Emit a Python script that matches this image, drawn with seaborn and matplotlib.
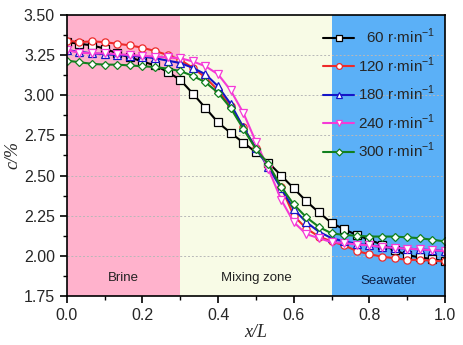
import numpy as np
import pandas as pd
import seaborn as sns
import matplotlib
matplotlib.use('Agg')
from matplotlib import pyplot as plt
from matplotlib.ticker import MultipleLocator

# data
x_pos = [0.0, 0.0333, 0.0667, 0.1, 0.1333, 0.1667, 0.2, 0.2333, 0.2667, 0.3,
         0.3333, 0.3667, 0.4, 0.4333, 0.4667, 0.5, 0.5333, 0.5667, 0.6, 0.6333,
         0.6667, 0.7, 0.7333, 0.7667, 0.8, 0.8333, 0.8667, 0.9, 0.9333, 0.9667, 1.0]

c_60 = [3.33, 3.32, 3.31, 3.29, 3.26, 3.235, 3.21, 3.185, 3.145, 3.095,
        3.01, 2.92, 2.83, 2.765, 2.705, 2.645, 2.58, 2.50, 2.42, 2.34,
        2.27, 2.205, 2.165, 2.13, 2.10, 2.07, 2.035, 2.005, 1.99, 1.98, 1.965]
c_120 = [3.34, 3.33, 3.335, 3.33, 3.32, 3.31, 3.295, 3.275, 3.25, 3.22,
         3.17, 3.11, 3.03, 2.93, 2.80, 2.67, 2.56, 2.43, 2.25, 2.17,
         2.12, 2.09, 2.065, 2.03, 2.01, 1.995, 1.985, 1.975, 1.975, 1.97, 1.965]
c_180 = [3.28, 3.27, 3.26, 3.255, 3.25, 3.245, 3.24, 3.23, 3.215, 3.20,
         3.17, 3.13, 3.055, 2.945, 2.80, 2.67, 2.55, 2.42, 2.29, 2.21,
         2.15, 2.11, 2.09, 2.075, 2.065, 2.055, 2.05, 2.045, 2.04, 2.035, 2.03]
c_240 = [3.28, 3.265, 3.26, 3.26, 3.255, 3.25, 3.245, 3.24, 3.235, 3.23,
         3.21, 3.18, 3.13, 3.03, 2.89, 2.71, 2.54, 2.35, 2.21, 2.135,
         2.11, 2.085, 2.08, 2.07, 2.065, 2.055, 2.05, 2.045, 2.04, 2.035, 2.03]
c_300 = [3.215, 3.205, 3.195, 3.19, 3.19, 3.185, 3.18, 3.175, 3.165, 3.15,
         3.12, 3.08, 3.015, 2.92, 2.79, 2.665, 2.57, 2.43, 2.32, 2.24,
         2.18, 2.14, 2.13, 2.125, 2.12, 2.12, 2.12, 2.115, 2.11, 2.10, 2.09]

speeds = ['  60', '120', '180', '240', '300']
series = [c_60, c_120, c_180, c_240, c_300]
colors = ['#000000', '#EE2A2A', '#1515C8', '#F53AD6', '#12801E']
markers = ['s', 'o', '^', 'v', 'D']
msizes = [5.2, 5.2, 5.2, 5.2, 4.4]

zones = ['Brine', 'Mixing zone', 'Seawater']
zone_edges = [0.0, 0.3, 0.7, 1.0]
zone_colors = ['#FFB2CC', '#F8FBE6', '#5BB0F7']
zone_text_x = [0.15, 0.5, 0.85]
zone_text_y = [1.86, 1.86, 1.845]

x_ticks = [0.0, 0.2, 0.4, 0.6, 0.8, 1.0]
x_labels = ['0.0', '0.2', '0.4', '0.6', '0.8', '1.0']
y_ticks = [1.75, 2.0, 2.25, 2.5, 2.75, 3.0, 3.25, 3.5]
y_labels = ['1.75', '2.00', '2.25', '2.50', '2.75', '3.00', '3.25', '3.50']

rows = []
for sp, vals in zip(speeds, series):
    for xv, cv in zip(x_pos, vals):
        rows.append({'x': xv, 'c': cv, 'speed': sp})
df = pd.DataFrame(rows)

sns.set_theme(style='ticks')
plt.rcParams['font.family'] = ['Liberation Sans', 'DejaVu Sans']
plt.rcParams['mathtext.fontset'] = 'custom'
plt.rcParams['mathtext.rm'] = 'Liberation Sans'

fig = plt.figure(figsize=(4.64, 3.45), dpi=100)
ax = fig.add_axes([0.144, 0.142, 0.815, 0.815])

for i in range(3):
    ax.axvspan(zone_edges[i], zone_edges[i + 1], color=zone_colors[i], lw=0, zorder=0)
    ax.text(zone_text_x[i], zone_text_y[i], zones[i], ha='center', va='center',
            fontsize=9.5, color='#222222' if i < 2 else '#0E1E45', zorder=3)

for yv in y_ticks[1:-1]:
    ax.axhline(yv, color='#B8B8B8', lw=0.7, ls=(0, (2, 2)), zorder=1)

for sp, col, mk, ms in zip(speeds, colors, markers, msizes):
    sub = df[df['speed'] == sp]
    sns.lineplot(data=sub, x='x', y='c', ax=ax, color=col, marker=mk, markersize=ms,
                 markerfacecolor='white', markeredgecolor=col, markeredgewidth=0.9,
                 lw=1.5, label=sp + r' r$\cdot$min$^{-1}$', zorder=4)

ax.set_xlim(0, 1.0)
ax.set_ylim(1.75, 3.5)
ax.set_xticks(x_ticks)
ax.set_xticklabels(x_labels)
ax.set_yticks(y_ticks)
ax.set_yticklabels(y_labels)
ax.xaxis.set_minor_locator(MultipleLocator(0.1))
ax.yaxis.set_minor_locator(MultipleLocator(0.125))
ax.tick_params(which='major', direction='out', length=5, width=1.2, labelsize=11.5, color='black')
ax.tick_params(which='minor', direction='out', length=3, width=1.0, color='black')
for s in ax.spines.values():
    s.set_linewidth(1.2)
    s.set_color('black')
    s.set_zorder(5)

ax.set_xlabel('x/L', fontsize=13, fontstyle='italic', family='Liberation Serif', labelpad=1)
ax.set_ylabel('c/%', fontsize=13, fontstyle='italic', family='Liberation Serif', labelpad=2)

leg = ax.legend(loc='upper right', bbox_to_anchor=(1.0, 0.99), frameon=False,
                fontsize=11, handlelength=2.0, handletextpad=0.3, labelspacing=0.6,
                markerscale=0.8, borderaxespad=0.2)

fig.savefig('out.png', dpi=100)
